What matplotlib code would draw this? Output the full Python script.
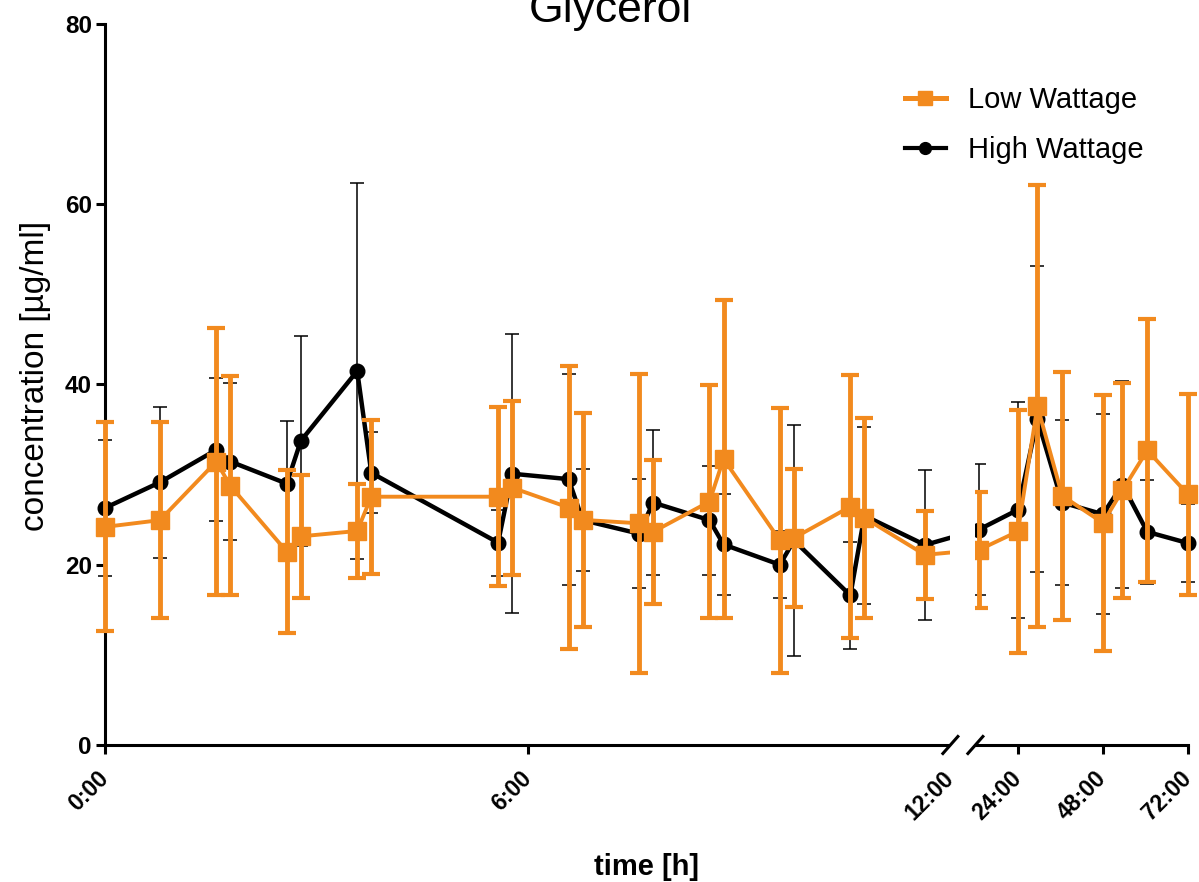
import numpy as np
import matplotlib
matplotlib.use("Agg")
import matplotlib.pyplot as plt
from matplotlib.patches import Rectangle
from matplotlib.lines import Line2D
from matplotlib.transforms import blended_transform_factory

plt.rcParams["font.family"] = ["Liberation Sans", "DejaVu Sans"]

ORANGE = "#F28A1E"

# sampling times in hours (0-12 h dense, then up to 72 h)
hours = [0, 0.78, 1.58, 1.78, 2.58, 2.78, 3.58, 3.78, 5.58, 5.78,
         6.58, 6.78, 7.58, 7.78, 8.58, 8.78, 9.58, 9.78, 10.58, 10.78,
         11.64, 13, 24, 29.5, 36.5, 48, 53.5, 60.5, 72]

low_mean = [24.2, 24.95, 31.45, 28.75, 21.45, 23.15, 23.75, 27.55, 27.55, 28.55,
            26.35, 24.98, 24.6, 23.65, 27.0, 31.75, 22.7, 22.97, 26.45, 25.2,
            21.1, 21.65, 23.7, 37.6, 27.65, 24.65, 28.25, 32.7, 27.8]
low_sd = [11.6, 10.85, 14.85, 12.15, 9.05, 6.85, 5.25, 8.55, 9.95, 9.65,
          15.65, 11.9, 16.6, 7.95, 12.9, 17.65, 14.7, 7.7, 14.6, 11.1,
          4.85, 6.45, 13.5, 24.5, 13.75, 14.2, 11.95, 14.6, 11.2]

high_mean = [26.3, 29.15, 32.75, 31.45, 29.0, 33.75, 41.5, 30.2, 22.45, 30.1,
             29.5, 24.95, 23.45, 26.9, 24.95, 22.25, 20.0, 22.7, 16.6, 25.45,
             22.2, 23.9, 26.1, 36.15, 26.9, 25.6, 28.9, 23.65, 22.4]
high_sd = [7.5, 8.35, 7.95, 8.75, 7.0, 11.65, 20.9, 4.5, 3.65, 15.5,
           11.7, 5.65, 6.05, 8.0, 6.05, 5.65, 3.7, 12.8, 5.9, 9.85,
           8.3, 7.3, 12.0, 16.95, 9.2, 11.1, 11.5, 5.75, 4.3]

tick_hours = [0, 6, 12, 24, 48, 72]
tick_labels = ["0:00", "6:00", "12:00", "24:00", "48:00", "72:00"]

# broken x axis: 0-12 h wide, gap, 12-72 h compressed
BREAK = 12
GAP = 0.355
K = 0.0503


def fwd(h):
    h = np.asarray(h, dtype=float)
    return np.where(h <= BREAK, h, BREAK + GAP + (h - BREAK) * K)


def inv(u):
    u = np.asarray(u, dtype=float)
    return np.where(u <= BREAK, u,
                    np.where(u < BREAK + GAP, BREAK, BREAK + (u - BREAK - GAP) / K))


fig = plt.figure(figsize=(11.99, 8.82), dpi=100)
ax = fig.add_axes([105 / 1199, 137 / 882, 1083 / 1199, 721 / 882])
ax.set_xscale("function", functions=(fwd, inv))

ax.errorbar(hours, high_mean, yerr=high_sd, color="black", marker="o", ms=10.5,
            lw=3.2, elinewidth=1.1, capsize=5, capthick=1.1, zorder=2,
            clip_on=False)
ax.errorbar(hours, low_mean, yerr=low_sd, color=ORANGE, marker="s", ms=13,
            lw=2.8, elinewidth=3.5, capsize=6.2, capthick=3.0, zorder=3,
            clip_on=False)

ax.set_xlim(0, 72)
ax.set_ylim(0, 80)
ax.set_yticks([0, 20, 40, 60, 80])
ax.set_xticks(tick_hours)
ax.set_xticklabels(tick_labels, rotation=45, ha="right", va="center",
                   rotation_mode="anchor", fontweight="bold", fontsize=16.5)
for lab in ax.get_yticklabels():
    lab.set_fontweight("bold")
    lab.set_fontsize(17.5)
ax.xaxis.get_major_ticks()[2].tick1line.set_visible(False)

for side in ["top", "right"]:
    ax.spines[side].set_visible(False)
for side in ["left", "bottom"]:
    ax.spines[side].set_linewidth(2.2)
ax.tick_params(axis="both", width=2.2, length=6.5, pad=3)
ax.tick_params(axis="x", pad=15)

# hide everything in the break gap
total = float(fwd(72))
g0 = BREAK / total
g1 = (BREAK + GAP) / total
trans = blended_transform_factory(ax.transAxes, ax.transData)
ax.add_patch(Rectangle((g0, -0.6), g1 - g0, 60, transform=trans,
                       facecolor="white", edgecolor="none", zorder=4, clip_on=False))
dx, dy = 7.5 / 1083, 8.5 / 721
for gx in (g0, g1):
    ax.add_line(Line2D([gx - dx, gx + dx], [-dy, dy], transform=ax.transAxes,
                       color="black", lw=2.2, zorder=4.5, clip_on=False))

ax.set_ylabel("concentration [µg/ml]", fontsize=24)
ax.yaxis.set_label_coords(-0.050, 0.512)
ax.set_xlabel("time [h]", fontsize=21, fontweight="bold")
ax.xaxis.set_label_coords(0.5, -0.150)

fig.text(610 / 1199, 1 - 22 / 882, "Glycerol", ha="center", va="baseline", fontsize=32)

leg_handles = [
    Line2D([], [], color=ORANGE, marker="s", ms=10, lw=3.6),
    Line2D([], [], color="black", marker="o", ms=8.5, lw=3.0),
]
ax.legend(leg_handles, ["Low Wattage", "High Wattage"], loc="upper left",
          bbox_to_anchor=(905 / 1199, 1 - 86 / 882), bbox_transform=fig.transFigure,
          frameon=False, fontsize=21, handlelength=1.4, handletextpad=0.75,
          labelspacing=0.76, borderpad=0, borderaxespad=0)

fig.savefig("out.png", dpi=100)
